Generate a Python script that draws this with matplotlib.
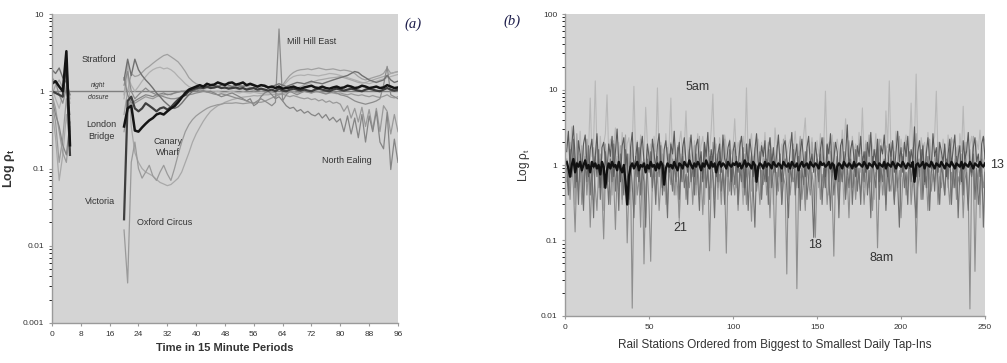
import numpy as np
import matplotlib
matplotlib.use("Agg")
import matplotlib.pyplot as plt
from matplotlib.ticker import FixedLocator, FixedFormatter, NullLocator

plt.rcParams['font.family'] = ['Liberation Sans', 'DejaVu Sans']
plt.rcParams['mathtext.default'] = 'regular'

# ---------------- Panel (a): periods 0-5 (before night closure) and 20-96 ----------------
pre_periods = [0, 1, 2, 3, 4, 5]
day_periods = list(range(20, 97))

avg_pre = [1.25, 1.35, 1.15, 1.0, 3.3, 0.2]
avg_day = [0.35, 0.6, 0.65, 0.31, 0.3, 0.34, 0.38, 0.42, 0.45, 0.5,
           0.52, 0.5, 0.55, 0.6, 0.64, 0.72, 0.83, 0.95, 1.05, 1.1,
           1.15, 1.2, 1.15, 1.25, 1.2, 1.22, 1.3, 1.25, 1.2, 1.28,
           1.3, 1.22, 1.25, 1.3, 1.2, 1.25, 1.2, 1.15, 1.2, 1.18,
           1.12, 1.15, 1.1, 1.15, 1.08, 1.1, 1.12, 1.15, 1.1, 1.08,
           1.12, 1.15, 1.18, 1.12, 1.1, 1.15, 1.1, 1.08, 1.12, 1.15,
           1.1, 1.12, 1.18, 1.15, 1.1, 1.12, 1.18, 1.15, 1.1, 1.12,
           1.15, 1.1, 1.12, 1.2, 1.15, 1.1, 1.12]

victoria_pre = [1.0, 0.95, 0.9, 0.85, 2.6, 0.15]
victoria_day = [0.022, 0.75, 0.85, 0.6, 0.55, 0.6, 0.7, 0.65, 0.6, 0.55,
                0.6, 0.62, 0.58, 0.62, 0.7, 0.78, 0.85, 0.9, 1.0, 1.05,
                1.1, 1.12, 1.1, 1.15, 1.1, 1.12, 1.15, 1.1, 1.12, 1.08,
                1.1, 1.12, 1.08, 1.1, 1.05, 1.08, 1.1, 1.05, 1.08, 1.05,
                1.02, 1.05, 1.0, 1.08, 1.02, 1.0, 1.05, 1.08, 1.05, 1.02,
                1.05, 1.02, 1.0, 1.05, 1.08, 1.05, 1.02, 1.0, 1.05, 1.08,
                1.05, 1.02, 1.05, 1.08, 1.05, 1.02, 1.0, 1.05, 1.08, 1.05,
                1.02, 1.0, 1.05, 1.1, 1.05, 1.02, 1.05]

oxford_pre = [0.7, 0.4, 0.12, 0.25, 0.8, 0.3]
oxford_day = [0.016, 0.0033, 0.12, 0.22, 0.1, 0.075, 0.09, 0.11, 0.08, 0.07,
              0.09, 0.11, 0.085, 0.07, 0.1, 0.15, 0.22, 0.3, 0.37, 0.43,
              0.48, 0.52, 0.56, 0.6, 0.63, 0.65, 0.67, 0.68, 0.7, 0.7,
              0.7, 0.71, 0.7, 0.69, 0.7, 0.71, 0.7, 0.72, 0.72, 0.74,
              0.78, 0.82, 0.86, 0.9, 0.95, 0.95, 0.98, 1.0, 0.95, 0.98,
              1.0, 0.97, 0.95, 0.98, 1.0, 0.96, 0.94, 0.97, 0.95, 0.93,
              0.95, 0.92, 0.9, 0.93, 0.9, 0.88, 0.9, 0.87, 0.85, 0.88,
              0.85, 0.83, 0.86, 0.9, 0.84, 0.82, 0.85]

canary_pre = [0.6, 0.25, 0.07, 0.15, 0.5, 0.2]
canary_day = [0.9, 2.4, 0.35, 0.16, 0.12, 0.1, 0.09, 0.085, 0.08, 0.072,
              0.066, 0.063, 0.06, 0.062, 0.068, 0.075, 0.09, 0.12, 0.16, 0.22,
              0.28, 0.34, 0.41, 0.48, 0.55, 0.6, 0.65, 0.68, 0.72, 0.75,
              0.78, 0.8, 0.82, 0.84, 0.85, 0.86, 0.88, 0.87, 0.88, 0.9,
              0.9, 0.92, 0.9, 0.93, 0.95, 0.98, 1.0, 1.05, 1.1, 1.15,
              1.2, 1.25, 1.3, 1.35, 1.4, 1.42, 1.45, 1.48, 1.5, 1.52,
              1.55, 1.5, 1.45, 1.4, 1.35, 1.3, 1.28, 1.3, 1.35, 1.4,
              1.45, 1.5, 1.55, 1.6, 1.7, 1.75, 1.8]

stratford_pre = [1.9, 1.7, 2.0, 1.5, 1.3, 0.9]
stratford_day = [1.4, 2.6, 1.6, 2.6, 1.9, 1.6, 1.4, 1.25, 1.1, 0.95,
                 0.85, 0.75, 0.68, 0.62, 0.6, 0.63, 0.7, 0.8, 0.9, 1.0,
                 1.05, 1.1, 1.15, 1.12, 1.18, 1.2, 1.15, 1.2, 1.25, 1.2,
                 1.15, 1.2, 1.18, 1.15, 1.2, 1.22, 1.18, 1.15, 1.2, 1.15,
                 1.1, 1.15, 1.2, 1.25, 1.2, 1.15, 1.2, 1.25, 1.3, 1.28,
                 1.25, 1.3, 1.35, 1.3, 1.28, 1.25, 1.3, 1.35, 1.4, 1.45,
                 1.5, 1.55, 1.6, 1.7, 1.8, 1.75, 1.6, 1.5, 1.4, 1.35,
                 1.3, 1.35, 1.4, 1.6, 1.4, 1.3, 1.35]

peak_pre = [0.9, 1.2, 1.4, 1.1, 1.6, 0.8]
peak_day = [0.5, 1.0, 1.7, 1.55, 1.6, 1.75, 1.95, 2.1, 2.3, 2.5,
            2.7, 2.9, 3.0, 2.8, 2.6, 2.4, 2.1, 1.8, 1.5, 1.35,
            1.25, 1.2, 1.15, 1.2, 1.1, 1.15, 1.12, 1.1, 1.08, 1.12,
            1.1, 1.08, 1.05, 1.1, 1.08, 1.05, 1.02, 1.05, 1.0, 1.02,
            1.0, 1.05, 1.0, 1.1, 1.2, 1.4, 1.6, 1.75, 1.85, 1.9,
            1.92, 1.95, 1.9, 1.95, 2.0, 1.95, 1.9, 1.92, 1.95, 1.9,
            1.85, 1.88, 1.85, 1.8, 1.7, 1.55, 1.45, 1.4, 1.45, 1.5,
            1.55, 1.6, 1.7, 2.0, 1.7, 1.75, 1.8]

second_pre = [1.1, 0.8, 0.6, 0.9, 1.2, 0.7]
second_day = [0.8, 1.6, 1.2, 1.0, 1.15, 1.35, 1.55, 1.75, 1.9, 2.0,
              2.05, 1.95, 2.0, 1.9, 1.75, 1.55, 1.4, 1.25, 1.15, 1.1,
              1.05, 1.0, 1.05, 1.02, 1.0, 0.98, 1.0, 0.97, 0.95, 0.98,
              1.0, 0.97, 0.95, 0.98, 0.96, 0.95, 0.97, 0.95, 0.93, 0.95,
              0.95, 0.97, 1.0, 1.05, 1.15, 1.3, 1.45, 1.55, 1.6, 1.62,
              1.6, 1.65, 1.62, 1.6, 1.58, 1.62, 1.65, 1.7, 1.68, 1.65,
              1.6, 1.55, 1.5, 1.45, 1.4, 1.35, 1.3, 1.28, 1.25, 1.3,
              1.35, 1.4, 1.45, 1.5, 1.55, 1.6, 1.65]

millhill_pre = [1.5, 1.3, 0.9, 0.7, 1.1, 0.5]
millhill_day = [1.2, 1.8, 1.0, 0.8, 0.9, 1.0, 1.1, 1.0, 0.95, 0.9,
                0.88, 0.85, 0.82, 0.8, 0.8, 0.82, 0.85, 0.88, 0.9, 0.92,
                0.95, 0.97, 1.0, 0.98, 0.95, 0.92, 0.9, 0.93, 0.9, 0.88,
                0.85, 0.82, 0.8, 0.78, 0.75, 0.72, 0.7, 0.75, 0.8, 0.75,
                0.7, 0.65, 0.72, 6.4, 0.75, 0.9, 1.0, 0.95, 0.9, 0.95,
                1.0, 0.98, 0.95, 1.0, 0.98, 0.95, 0.92, 0.95, 0.98, 0.95,
                0.9, 0.88, 0.85, 0.8, 0.75, 0.72, 0.7, 0.68, 0.7, 0.72,
                0.75, 0.8, 1.2, 2.1, 0.9, 0.85, 0.8]

ealing_pre = [0.8, 0.5, 0.35, 0.2, 0.15, 0.4]
ealing_day = [1.5, 0.9, 0.7, 0.75, 0.8, 0.85, 0.9, 0.88, 0.85, 0.9,
              0.92, 0.95, 0.9, 0.92, 0.95, 0.98, 1.0, 0.97, 1.0, 1.02,
              1.05, 1.0, 1.02, 0.98, 1.0, 0.95, 0.9, 0.85, 0.88, 0.92,
              0.95, 0.9, 0.85, 0.8, 0.75, 0.8, 0.65, 0.7, 0.85, 0.95,
              1.0, 0.9, 0.8, 0.85, 0.75, 0.65, 0.6, 0.62, 0.55, 0.58,
              0.52, 0.55, 0.5, 0.48, 0.52, 0.45, 0.5, 0.42, 0.46, 0.4,
              0.44, 0.3, 0.48, 0.28, 0.45, 0.25, 0.5, 0.22, 0.48, 0.3,
              0.55, 0.22, 0.18, 0.53, 0.097, 0.24, 0.12]

ealing2_pre = [0.9, 0.6, 0.3, 0.16, 0.12, 0.35]
ealing2_day = [0.3, 0.6, 0.8, 0.7, 0.75, 0.8, 0.85, 0.82, 0.8, 0.85,
               0.88, 0.9, 0.92, 0.9, 0.95, 0.97, 1.0, 1.02, 1.05, 1.08,
               1.1, 1.05, 1.08, 1.1, 1.12, 1.1, 1.15, 1.12, 1.1, 1.15,
               1.12, 1.1, 1.15, 1.18, 1.15, 1.12, 1.1, 1.12, 1.08, 1.05,
               1.0, 0.98, 0.95, 0.9, 0.92, 0.88, 0.85, 0.88, 0.85, 0.82,
               0.8, 0.82, 0.78, 0.8, 0.75, 0.78, 0.72, 0.75, 0.7, 0.72,
               0.68, 0.55, 0.65, 0.45, 0.6, 0.4, 0.62, 0.35, 0.58, 0.32,
               0.6, 0.3, 0.65, 0.55, 0.28, 0.5, 0.3]

a_xticks = list(range(0, 97, 8))
a_yticks = [0.001, 0.01, 0.1, 1, 10]
a_ytick_labels = ['0.001', '0.01', '0.1', '1', '10']

# ---------------- Panel (b): 250 stations ----------------
rho_5am = [1.8, 2.5, 1.2, 3.2, 1.5, 0.9, 2.1, 1.4, 2.8, 1.1, 1.7, 0.8, 2.2, 1.5, 7.7, 1.3, 2.0, 13, 1.6, 0.9, 2.4, 1.2, 1.9, 2.6, 8.5,
           1.4, 2.2, 0.7, 1.8, 3.1, 1.3, 2.0, 1.0, 2.7, 1.5, 0.8, 1.9, 2.3, 1.2, 1.6, 11, 1.4, 2.1, 0.9, 2.5, 1.7, 1.1, 5.8, 2.0, 1.3,
           1.9, 0.9, 2.4, 1.5, 10.5, 1.2, 2.0, 1.6, 0.8, 2.6, 1.4, 1.9, 7.7, 1.1, 2.2, 1.5, 0.7, 2.0, 2.8, 1.3, 1.7, 5.2, 1.2, 2.3, 1.6,
           0.9, 2.1, 1.4, 2.6, 1.1, 1.8, 2.4, 1.3, 0.8, 2.0, 1.5, 2.9, 8.7, 1.4, 1.9, 1.0, 2.3, 1.6, 1.2, 2.5, 1.8, 0.9, 2.2, 1.4, 1.7,
           4.1, 1.3, 2.0, 1.6, 0.8, 2.4, 1.5, 10.5, 1.2, 1.9, 2.6, 1.1, 1.7, 0.9, 2.2, 1.4, 2.0, 1.3, 2.7, 1.0, 1.8, 2.3, 1.5, 0.8, 3.1,
           1.6, 2.1, 1.2, 1.9, 0.9, 2.5, 1.4, 1.8, 2.2, 1.1, 1.6, 2.8, 1.3, 0.8, 2.0, 1.5, 2.4, 4.2, 1.2, 1.9, 1.4, 2.3, 0.9, 1.7, 2.1,
           1.3, 2.6, 1.0, 1.8, 9.5, 1.4, 2.0, 1.2, 2.5, 0.9, 1.7, 2.2, 1.5, 1.1, 2.9, 1.6, 4.1, 1.3, 2.0, 0.8, 2.4, 1.5, 1.9, 1.2, 2.7,
           1.4, 5.7, 1.1, 2.1, 1.6, 0.9, 2.3, 1.8, 1.3, 2.6, 1.0, 1.9, 2.2, 1.4, 0.8, 5.2, 1.7, 13, 1.5, 2.0, 1.2, 2.8, 1.6, 0.9, 2.2,
           1.5, 1.9, 2.5, 1.1, 1.7, 6.6, 1.3, 2.1, 16, 1.4, 0.9, 2.3, 1.6, 2.0, 1.2, 2.7, 1.5, 0.8, 1.9, 2.4, 9.5, 1.3, 1.8, 1.1, 2.2,
           1.6, 0.9, 2.5, 1.4, 1.9, 2.2, 1.2, 1.7, 0.8, 2.6, 1.5, 6.0, 1.3, 2.0, 1.1, 1.8, 2.4, 1.4, 0.9, 2.1, 1.6, 2.9, 1.2, 1.9, 2.3]

rho_8am = [0.6, 0.9, 0.35, 1.2, 0.5, 0.13, 0.8, 0.45, 1.1, 0.3, 0.7, 1.3, 0.4, 0.9, 0.15, 0.6, 1.0, 0.5, 0.25, 0.8, 1.2, 0.45, 0.105, 0.7, 0.55,
           0.9, 0.3, 1.1, 0.6, 0.14, 0.8, 0.45, 1.0, 0.35, 0.7, 1.2, 0.093, 0.5, 0.8, 0.0127, 0.6, 0.95, 0.4, 0.7, 0.15, 1.1, 0.049, 0.5, 0.85, 0.3,
           0.053, 0.7, 1.0, 0.4, 0.8, 0.25, 0.6, 1.1, 0.45, 0.7, 0.3, 0.9, 0.55, 1.2, 0.4, 0.75, 0.5, 0.2, 0.85, 0.6, 1.0, 0.35, 0.7, 0.5, 0.9,
           0.3, 0.8, 0.55, 1.1, 0.4, 0.7, 0.22, 0.9, 0.5, 1.0, 0.073, 0.6, 0.8, 0.35, 1.2, 0.5, 0.75, 0.3, 0.9, 0.6, 0.068, 0.85, 0.45, 1.0, 0.6,
           0.4, 0.9, 0.25, 0.7, 1.1, 0.5, 0.8, 0.3, 0.95, 0.6, 0.18, 0.75, 1.0, 0.45, 0.7, 0.3, 0.85, 0.55, 1.2, 0.4, 0.7, 0.2, 0.9, 0.5, 0.059,
           0.8, 0.45, 1.0, 0.3, 0.7, 0.55, 0.036, 0.9, 0.4, 0.75, 0.6, 1.1, 0.023, 0.5, 0.85, 0.35, 0.7, 0.25, 0.95, 0.6, 0.4, 0.8, 0.5, 0.11, 0.7,
           1.0, 0.35, 0.75, 0.5, 0.9, 0.3, 0.65, 1.1, 0.45, 0.062, 0.8, 0.55, 0.3, 0.9, 0.6, 1.0, 0.4, 0.7, 0.2, 0.85, 0.5, 0.75, 0.35, 1.0, 0.6,
           0.45, 0.8, 0.3, 0.7, 1.1, 0.5, 0.9, 0.25, 0.65, 0.8, 0.08, 0.55, 1.0, 0.4, 0.75, 0.3, 0.9, 0.6, 0.45, 1.1, 0.35, 0.7, 0.5, 0.85, 0.2,
           0.65, 0.9, 0.4, 0.75, 1.0, 0.3, 0.6, 0.85, 0.068, 0.5, 0.8, 0.35, 1.1, 0.55, 0.7, 0.25, 0.9, 0.45, 0.75, 0.6, 1.0, 0.3, 0.7, 0.5, 0.85,
           0.4, 0.95, 0.6, 0.3, 0.8, 0.5, 1.1, 0.35, 0.7, 0.55, 0.9, 0.2, 0.65, 0.8, 0.45, 0.0124, 0.7, 1.0, 0.039, 0.6, 0.85, 0.3, 0.75, 0.5, 0.9]

rho_13 = [1.5, 2.8, 0.9, 1.8, 3.3, 1.2, 0.6, 2.1, 1.4, 0.8, 1.9, 2.5, 1.1, 0.7, 1.6, 2.2, 0.9, 1.3, 2.6, 1.0, 0.5, 1.7, 2.0, 1.2, 0.8,
          1.9, 1.3, 2.4, 0.7, 1.5, 3.0, 1.1, 0.6, 1.8, 2.3, 1.0, 1.4, 0.35, 1.7, 2.7, 0.9, 1.2, 2.0, 0.6, 1.6, 2.4, 1.1, 0.8, 1.9, 1.3,
          0.7, 2.2, 1.4, 0.9, 1.8, 2.6, 1.0, 0.5, 1.6, 2.1, 1.2, 0.8, 1.9, 1.4, 2.8, 0.9, 1.3, 2.0, 0.6, 1.7, 2.3, 1.1, 0.8, 1.5, 2.5,
          1.2, 0.7, 1.8, 2.2, 1.0, 1.5, 0.6, 2.0, 1.3, 2.7, 0.9, 1.6, 1.1, 2.3, 0.7, 1.4, 1.9, 0.8, 2.5, 1.2, 1.0, 1.7, 2.1, 0.6, 1.5,
          2.0, 1.1, 0.8, 1.7, 2.4, 1.3, 0.5, 1.9, 1.0, 2.2, 1.4, 0.7, 1.6, 2.6, 1.1, 0.9, 1.8, 1.3, 2.1, 0.6, 1.5, 2.3, 1.0, 1.7, 0.8,
          1.4, 2.5, 1.0, 0.6, 1.8, 2.1, 1.2, 0.8, 1.6, 2.7, 0.9, 1.3, 1.9, 0.5, 1.5, 2.2, 1.1, 0.7, 1.7, 2.4, 1.0, 1.4, 0.8, 2.0, 1.2,
          0.9, 1.6, 2.3, 1.1, 0.7, 1.9, 1.4, 2.6, 0.8, 1.2, 2.0, 1.5, 0.6, 1.8, 2.2, 1.0, 1.4, 3.4, 0.9, 1.6, 2.1, 1.2, 0.7, 1.8, 1.3,
          2.4, 1.0, 1.5, 0.8, 2.0, 1.3, 2.7, 0.9, 1.6, 1.1, 2.2, 0.6, 1.8, 1.4, 2.5, 1.0, 0.7, 1.9, 1.3, 2.1, 0.8, 1.5, 2.8, 1.1, 1.7,
          0.8, 2.0, 1.3, 2.4, 0.9, 1.6, 1.1, 3.2, 0.7, 1.5, 2.1, 1.0, 1.8, 0.6, 1.4, 2.3, 1.2, 0.9, 2.6, 1.3, 1.7, 0.8, 2.0, 1.5, 1.1,
          1.9, 0.7, 1.4, 2.2, 1.0, 1.6, 2.5, 0.9, 1.3, 1.8, 0.6, 2.1, 1.2, 1.5, 2.7, 1.0, 0.8, 1.7, 2.3, 1.1, 1.4, 0.7, 1.9, 2.4, 1.2]

rho_18 = [0.9, 0.4, 1.6, 0.7, 2.2, 0.5, 1.1, 0.3, 1.4, 0.8, 0.25, 1.2, 0.6, 1.8, 0.4, 0.9, 0.2, 1.3, 0.7, 1.6, 0.35, 1.0, 0.5, 1.5, 0.8,
          0.3, 1.2, 0.6, 1.9, 0.45, 1.0, 0.25, 1.4, 0.7, 0.4, 1.6, 0.9, 0.3, 1.1, 0.55, 0.2, 1.3, 0.7, 1.7, 0.4, 0.9, 0.6, 0.15, 1.2, 0.8,
          1.5, 0.5, 0.9, 0.3, 1.3, 0.7, 1.8, 0.4, 1.0, 0.6, 0.2, 1.4, 0.8, 0.45, 1.1, 0.6, 1.7, 0.35, 0.9, 1.3, 0.5, 0.75, 0.3, 1.6, 0.6,
          1.0, 0.4, 1.4, 0.65, 0.25, 1.2, 0.8, 1.9, 0.5, 0.9, 0.35, 1.3, 0.7, 0.2, 1.1, 0.6, 1.5, 0.45, 0.85, 0.3, 1.2, 0.7, 1.6, 0.4, 1.0,
          0.55, 1.3, 0.3, 0.9, 0.6, 1.7, 0.4, 1.1, 0.25, 0.8, 1.4, 0.5, 0.15, 1.0, 0.7, 1.5, 0.35, 0.9, 0.6, 1.2, 0.3, 1.6, 0.5, 0.8, 1.1,
          0.4, 0.9, 1.4, 0.3, 0.7, 1.2, 0.5, 0.2, 1.0, 0.6, 1.6, 0.4, 0.8, 1.3, 0.25, 0.9, 0.55, 1.5, 0.35, 0.7, 1.1, 0.45, 0.11, 0.8, 1.2,
          0.6, 1.4, 0.3, 0.9, 0.5, 1.8, 0.7, 0.25, 1.1, 0.4, 0.8, 1.3, 0.2, 0.95, 0.6, 1.5, 0.35, 1.0, 0.5, 1.2, 0.3, 0.8, 1.6, 0.45, 0.9,
          0.3, 1.1, 0.6, 1.5, 0.4, 0.85, 0.2, 1.3, 0.7, 0.5, 1.7, 0.35, 0.9, 0.6, 1.2, 0.25, 1.0, 0.45, 1.4, 0.7, 0.3, 1.1, 0.55, 0.15, 0.9,
          1.3, 0.5, 0.8, 0.3, 1.5, 0.6, 1.0, 0.4, 0.2, 1.2, 0.7, 1.6, 0.35, 0.9, 0.5, 1.3, 0.25, 0.8, 1.1, 0.45, 1.4, 0.6, 0.3, 1.0, 0.7,
          0.4, 1.2, 0.65, 1.7, 0.3, 0.9, 0.5, 1.3, 0.2, 0.8, 1.1, 0.4, 1.5, 0.6, 0.25, 1.0, 0.7, 1.4, 0.35, 0.9, 0.3, 0.5, 1.2, 0.15, 0.8]

rho_21 = [1.2, 0.5, 2.0, 0.8, 1.5, 0.3, 2.6, 1.0, 0.6, 1.8, 0.4, 1.3, 2.2, 0.7, 1.1, 0.35, 1.7, 0.9, 2.4, 0.5, 1.4, 0.8, 0.25, 1.9, 1.0,
          0.6, 1.6, 0.4, 2.1, 0.9, 1.3, 0.5, 1.8, 0.3, 1.1, 2.5, 0.7, 1.4, 0.45, 1.9, 0.8, 0.3, 1.5, 1.0, 2.2, 0.55, 1.2, 0.2, 1.6, 0.9,
          1.3, 0.45, 1.9, 0.7, 1.1, 2.3, 0.5, 1.4, 0.8, 0.3, 1.7, 1.0, 2.0, 0.6, 1.2, 0.4, 1.8, 0.16, 1.4, 0.7, 2.1, 0.9, 0.5, 1.5, 1.1,
          0.7, 1.8, 0.4, 1.2, 2.4, 0.6, 1.0, 0.3, 1.6, 0.9, 1.3, 0.5, 2.0, 0.8, 1.4, 0.35, 1.7, 1.0, 0.6, 2.2, 0.9, 0.4, 1.5, 1.1, 0.7,
          1.6, 0.5, 1.1, 2.1, 0.8, 0.3, 1.4, 0.7, 1.9, 1.0, 0.45, 1.3, 0.6, 2.3, 0.9, 1.2, 0.4, 1.7, 0.7, 1.1, 2.0, 0.5, 1.4, 0.3, 1.0,
          1.8, 0.7, 1.2, 0.4, 2.2, 0.9, 1.5, 0.35, 1.1, 0.6, 1.9, 1.0, 0.5, 1.4, 2.4, 0.8, 1.2, 0.3, 1.6, 0.9, 0.5, 2.0, 1.1, 0.7, 1.4,
          0.5, 1.7, 1.0, 2.3, 0.6, 1.2, 0.4, 1.5, 0.9, 2.0, 0.7, 1.3, 0.45, 1.8, 1.0, 0.3, 1.4, 0.8, 2.1, 1.1, 0.6, 1.6, 0.4, 1.2, 1.9,
          0.8, 1.3, 0.5, 1.9, 1.0, 2.5, 0.6, 1.2, 0.35, 1.6, 0.9, 2.2, 0.7, 1.1, 0.4, 1.8, 1.3, 0.6, 2.0, 0.9, 1.5, 0.45, 1.2, 2.4, 0.7,
          1.4, 0.6, 2.1, 0.9, 1.3, 0.4, 1.7, 1.0, 2.6, 0.7, 1.2, 0.35, 1.9, 0.8, 1.5, 0.5, 2.2, 1.1, 0.6, 1.4, 0.9, 2.0, 0.45, 1.3, 0.8,
          1.7, 1.0, 0.5, 1.5, 2.3, 0.7, 1.2, 0.4, 1.8, 0.9, 1.4, 0.6, 2.0, 1.1, 0.3, 1.6, 0.8, 2.4, 0.5, 1.3, 1.0, 0.2, 1.7, 0.9, 1.5]

rho_mean = [1.1, 0.9, 0.7, 1.0, 1.2, 0.8, 1.05, 0.95, 1.1, 0.85, 1.0, 1.15, 0.9, 1.0, 0.8, 1.1, 0.95, 1.05, 0.9, 1.0, 0.75, 1.1, 0.95, 0.5, 0.85,
            1.05, 0.9, 1.1, 0.95, 1.0, 0.85, 1.1, 0.9, 0.8, 1.0, 0.6, 0.3, 0.7, 0.95, 1.05, 0.9, 1.0, 1.1, 0.85, 1.0, 0.95, 1.05, 0.8, 1.0, 0.9,
            1.1, 0.95, 1.0, 0.85, 1.05, 0.9, 1.1, 1.0, 0.55, 0.9, 1.05, 0.95, 1.0, 0.9, 1.1, 0.95, 0.85, 1.05, 1.0, 0.9, 1.1, 1.0, 0.95, 1.15, 1.0,
            0.9, 1.05, 0.95, 1.1, 1.0, 0.85, 1.05, 0.95, 1.15, 1.0, 0.9, 1.1, 0.95, 1.05, 0.8, 1.0, 1.1, 0.95, 1.05, 1.0, 0.9, 1.1, 1.0, 0.95, 1.05,
            1.0, 1.1, 0.95, 1.05, 0.9, 1.0, 1.15, 0.95, 1.05, 1.0, 0.9, 1.1, 1.0, 0.6, 0.95, 1.05, 1.0, 0.9, 1.1, 0.95, 1.05, 1.0, 0.9, 1.1, 1.0,
            0.95, 1.05, 1.0, 0.9, 1.1, 1.0, 0.95, 1.05, 0.9, 1.1, 1.0, 0.95, 1.05, 0.85, 1.0, 1.1, 0.95, 1.0, 1.05, 0.9, 1.1, 1.0, 0.95, 1.05, 1.0,
            0.9, 1.1, 1.0, 1.05, 0.95, 1.0, 1.1, 0.9, 1.05, 1.0, 0.65, 0.95, 1.05, 1.0, 0.9, 1.1, 1.0, 0.95, 1.05, 1.0, 0.9, 1.1, 0.95, 1.0, 1.05,
            1.0, 0.95, 1.1, 1.0, 0.9, 1.05, 1.0, 0.95, 1.1, 1.0, 0.9, 1.05, 1.0, 0.95, 1.1, 0.9, 1.05, 1.0, 0.95, 1.1, 1.0, 0.9, 1.05, 1.0, 0.95,
            1.1, 1.0, 0.9, 1.05, 1.0, 0.95, 1.1, 0.6, 1.0, 1.05, 0.95, 1.0, 1.1, 0.9, 1.05, 1.0, 0.95, 1.1, 1.0, 0.9, 1.05, 1.0, 0.95, 1.1, 1.0,
            0.9, 1.05, 1.0, 0.95, 1.1, 1.0, 0.9, 1.05, 1.0, 0.95, 1.1, 0.9, 1.05, 1.0, 0.95, 1.1, 1.0, 0.9, 1.05, 1.0, 0.95, 1.1, 1.0, 0.95, 1.05]

b_xticks = [0, 50, 100, 150, 200, 250]
b_yticks = [0.01, 0.1, 1, 10, 100]
b_ytick_labels = ['0.01', '0.1', '1', '10', '100']

# ---------------- Figure ----------------
fig = plt.figure(figsize=(10.07, 3.63), dpi=100)
bg = '#d4d4d4'
spine_c = '#9a9a9a'
tick_c = '#333333'


def style(ax):
    ax.set_facecolor(bg)
    for s in ('top', 'right'):
        ax.spines[s].set_visible(False)
    for s in ('left', 'bottom'):
        ax.spines[s].set_color(spine_c)
        ax.spines[s].set_linewidth(1.0)
    ax.tick_params(axis='both', which='major', length=2.5, width=0.8,
                   color=spine_c, labelsize=6, labelcolor=tick_c, pad=3)
    ax.yaxis.set_minor_locator(NullLocator())


axa = fig.add_axes([0.0516, 0.1102, 0.3436, 0.8512])
style(axa)
axa.set_yscale('log')
axa.set_xlim(0, 96)
axa.set_ylim(0.001, 10)
axa.axhline(1, color='#808080', lw=1.0, zorder=1)


def seg(pre, day):
    xs = pre_periods + [np.nan] + day_periods
    ys = pre + [np.nan] + day
    return xs, ys


a_series = [
    (second_pre, second_day, '#b0b0b0', 0.9),
    (peak_pre, peak_day, '#a0a0a0', 0.9),
    (canary_pre, canary_day, '#a8a8a8', 0.9),
    (oxford_pre, oxford_day, '#9a9a9a', 0.9),
    (ealing2_pre, ealing2_day, '#9a9a9a', 0.9),
    (ealing_pre, ealing_day, '#858585', 0.9),
    (millhill_pre, millhill_day, '#8c8c8c', 0.9),
    (stratford_pre, stratford_day, '#707070', 1.0),
    (victoria_pre, victoria_day, '#3e3e3e', 1.6),
    (avg_pre, avg_day, '#141414', 1.8),
]
for pre, day, col, lw in a_series:
    xs, ys = seg(pre, day)
    axa.plot(xs, ys, color=col, lw=lw, zorder=2)

axa.xaxis.set_major_locator(FixedLocator(a_xticks))
axa.yaxis.set_major_locator(FixedLocator(a_yticks))
axa.yaxis.set_major_formatter(FixedFormatter(a_ytick_labels))
axa.set_xlabel('Time in 15 Minute Periods', fontsize=8, fontweight='bold',
               color='#333333', labelpad=4)
axa.set_ylabel(r'Log $\rho_t$', fontsize=9, fontweight='bold', color='#333333',
               labelpad=4)

lab = dict(fontsize=6.5, color='#333333', zorder=5)
axa.text(8.3, 2.6, 'Stratford', ha='left', va='center', **lab)
axa.text(12.8, 1.17, 'night', ha='center', va='center', fontsize=4.8,
         style='italic', color='#333333')
axa.text(12.8, 0.84, 'closure', ha='center', va='center', fontsize=4.8,
         style='italic', color='#333333')
axa.text(13.6, 0.31, 'London\nBridge', ha='center', va='center',
         linespacing=1.3, **lab)
axa.text(32.3, 0.19, 'Canary\nWharf', ha='center', va='center',
         linespacing=1.3, **lab)
axa.text(13.2, 0.037, 'Victoria', ha='center', va='center', **lab)
axa.text(23.7, 0.02, 'Oxford Circus', ha='left', va='center', **lab)
axa.text(65.1, 4.45, 'Mill Hill East', ha='left', va='center', **lab)
axa.text(74.8, 0.127, 'North Ealing', ha='left', va='center', **lab)

fig.text(413 / 1007, 1 - 24 / 363, '(a)', fontsize=10.5, style='italic',
         family=['Liberation Serif', 'DejaVu Serif'], color='#1c1c4a',
         ha='center', va='center')

# ---------------- Panel (b) ----------------
axb = fig.add_axes([0.5611, 0.1295, 0.4171, 0.8319])
style(axb)
axb.set_yscale('log')
axb.set_xlim(0, 250)
axb.set_ylim(0.01, 100)
stations = np.arange(1, len(rho_mean) + 1)

b_series = [
    (rho_5am, '#b8b8b8', 0.8),
    (rho_21, '#a2a2a2', 0.8),
    (rho_8am, '#8e8e8e', 0.8),
    (rho_18, '#6f6f6f', 0.8),
    (rho_13, '#5a5a5a', 0.8),
    (rho_mean, '#111111', 1.7),
]
for vals, col, lw in b_series:
    axb.plot(stations, vals, color=col, lw=lw, zorder=2)

axb.xaxis.set_major_locator(FixedLocator(b_xticks))
axb.yaxis.set_major_locator(FixedLocator(b_yticks))
axb.yaxis.set_major_formatter(FixedFormatter(b_ytick_labels))
axb.set_xlabel('Rail Stations Ordered from Biggest to Smallest Daily Tap-Ins',
               fontsize=8.5, color='#333333', labelpad=6)
axb.set_ylabel(r'Log $\rho_t$', fontsize=8.5, color='#333333', labelpad=6)

blab = dict(fontsize=9, color='#333333', zorder=5)
axb.text(79, 10.8, '5am', ha='center', va='center', **blab)
axb.text(68.5, 0.146, '21', ha='center', va='center', **blab)
axb.text(148.8, 0.087, '18', ha='center', va='center', **blab)
axb.text(188.7, 0.059, '8am', ha='center', va='center', **blab)
axb.text(253, 1.0, '13', ha='left', va='center', clip_on=False, **blab)

fig.text(512 / 1007, 1 - 21 / 363, '(b)', fontsize=10.5, style='italic',
         family=['Liberation Serif', 'DejaVu Serif'], color='#1c1c4a',
         ha='center', va='center')

fig.savefig('out.png', dpi=100, facecolor='white')
